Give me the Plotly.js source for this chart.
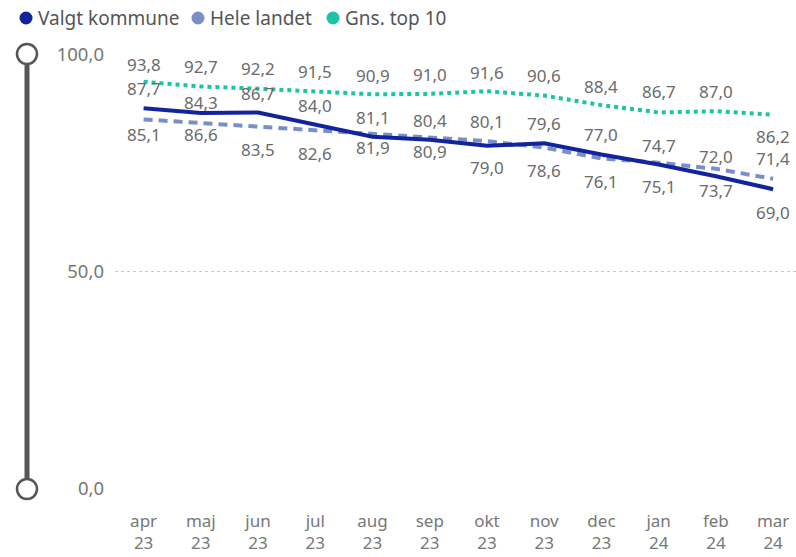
<!DOCTYPE html>
<html>
<head>
<meta charset="utf-8">
<script src="https://cdn.plot.ly/plotly-3.0.1.min.js"></script>
<style>
html,body{margin:0;padding:0;background:#fff;}
#chart{width:796px;height:557px;}
</style>
</head>
<body>
<div id="chart"></div>
<script>
// ---- data ----
const months = ['apr','maj','jun','jul','aug','sep','okt','nov','dec','jan','feb','mar'];
const years = ['23','23','23','23','23','23','23','23','23','24','24','24'];
const valgtKommune = [87.7, 86.6, 86.7, 84.0, 81.1, 80.4, 79.0, 79.6, 77.0, 74.7, 72.0, 69.0];
const heleLandet = [85.1, 84.3, 83.5, 82.6, 81.9, 80.9, 80.1, 78.6, 76.1, 75.1, 73.7, 71.4];
const gnsTop10 = [93.8, 92.7, 92.2, 91.5, 90.9, 91.0, 91.6, 90.6, 88.4, 86.7, 87.0, 86.2];
const seriesNames = ['Valgt kommune', 'Hele landet', 'Gns. top 10'];
const yTicks = [0, 50, 100];

// ---- styling (label offsets in px, positive = above line) ----
const valgtShift = [20, -22, 19, 19, 19, 19, -22, 20, 20, 19, 20, -23];
const heleShift = [-15, 20, -23, -23, -14, -14, 20, -23, -23, -24, -22, 20];
const top10Shift = [17, 20, 20, 20, 19, 19, 19, 20, 19, 21, 20, -22];
const legendPx = [26, 198, 333];   // legend marker centres (px from left)

const cats = months.map((m, i) => m + '<br>' + years[i]);
const fmt = v => v.toFixed(1).replace('.', ',');
const FONT = 'Segoe UI, Noto Sans, sans-serif';
const colors = ['#12239E', '#7A8EC8', '#1CC4A4'];
const PLOT_L = 115, PLOT_T = 54;

const traces = [
  {x: cats, y: gnsTop10, name: seriesNames[2], type: 'scatter', mode: 'lines', showlegend: false, hoverinfo: 'skip',
   line: {color: colors[2], width: 4, dash: '4px,4px'}},
  {x: cats, y: heleLandet, name: seriesNames[1], type: 'scatter', mode: 'lines', showlegend: false, hoverinfo: 'skip',
   line: {color: colors[1], width: 4, dash: '9px,6px'}},
  {x: cats, y: valgtKommune, name: seriesNames[0], type: 'scatter', mode: 'lines', showlegend: false, hoverinfo: 'skip',
   line: {color: colors[0], width: 4}},
];

const annotations = [];
[[valgtKommune, valgtShift], [heleLandet, heleShift], [gnsTop10, top10Shift]].forEach(([vals, sh]) => {
  vals.forEach((v, i) => {
    annotations.push({x: cats[i], y: v, xref: 'x', yref: 'y', text: fmt(v), showarrow: false,
      yshift: sh[i], xanchor: 'center', yanchor: 'middle', borderpad: 0,
      font: {family: FONT, size: 17, color: '#6b6b6b'}});
  });
});

const sliderColor = '#555555';
const shapes = [
  {type: 'line', xref: 'paper', xsizemode: 'pixel', xanchor: 0, x0: -88, x1: -88,
   yref: 'paper', y0: 0, y1: 1, line: {color: sliderColor, width: 5}, layer: 'above'},
  {type: 'circle', xref: 'paper', xsizemode: 'pixel', xanchor: 0, x0: -98, x1: -78,
   yref: 'paper', ysizemode: 'pixel', yanchor: 1, y0: -10, y1: 10,
   fillcolor: '#ffffff', line: {color: sliderColor, width: 2.5}, layer: 'above'},
  {type: 'circle', xref: 'paper', xsizemode: 'pixel', xanchor: 0, x0: -98, x1: -78,
   yref: 'paper', ysizemode: 'pixel', yanchor: 0, y0: -10, y1: 10,
   fillcolor: '#ffffff', line: {color: sliderColor, width: 2.5}, layer: 'above'},
];

// manual legend (marker circle + text)
seriesNames.forEach((n, i) => {
  const cx = legendPx[i] - PLOT_L;
  shapes.push({type: 'circle', xref: 'paper', xsizemode: 'pixel', xanchor: 0, x0: cx - 6.5, x1: cx + 6.5,
    yref: 'paper', ysizemode: 'pixel', yanchor: 1, y0: (PLOT_T - 18) - 6.5, y1: (PLOT_T - 18) + 6.5,
    fillcolor: colors[i], line: {width: 0}, layer: 'above'});
  annotations.push({xref: 'paper', yref: 'paper', x: 0, y: 1, xshift: cx + 10, yshift: PLOT_T - 18,
    text: n, showarrow: false, xanchor: 'left', yanchor: 'middle',
    font: {family: FONT, size: 19, color: '#555555'}});
});

const layout = {
  width: 796, height: 557,
  margin: {l: PLOT_L, r: 0, t: PLOT_T, b: 68},
  paper_bgcolor: '#ffffff', plot_bgcolor: '#ffffff',
  separators: ',.',
  font: {family: FONT, color: '#777777', size: 16},
  showlegend: false,
  xaxis: {type: 'category', range: [-0.5, 11.4], showgrid: false, zeroline: false, showline: false,
    ticks: '', tickfont: {family: FONT, size: 17, color: '#777777'}, ticklabelstandoff: 20, fixedrange: true},
  yaxis: {range: [-0.2, 100.2], tickvals: yTicks, tickformat: '.1f', showgrid: true, gridcolor: '#c8c8c8',
    griddash: 'dot', gridwidth: 1, zeroline: false, showline: false, ticks: '',
    tickfont: {family: FONT, size: 18.5, color: '#777777'}, ticklabelstandoff: 10, fixedrange: true},
  annotations: annotations,
  shapes: shapes,
  hovermode: false,
};

Plotly.newPlot('chart', traces, layout, {displayModeBar: false, staticPlot: true});
</script>
</body>
</html>
